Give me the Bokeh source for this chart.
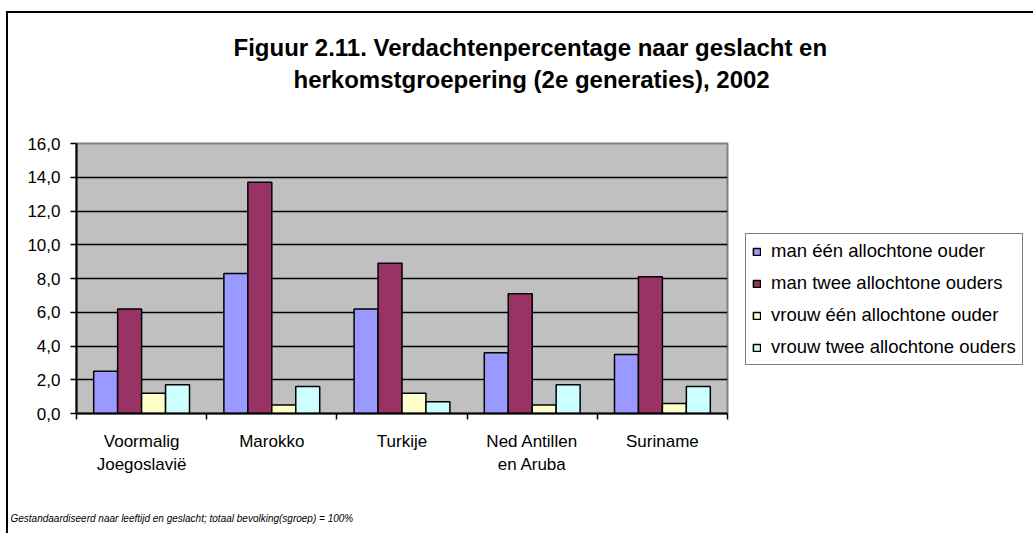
from bokeh.plotting import figure
from bokeh.models import Range1d, FixedTicker, Legend, Title
from bokeh.embed import file_html
from bokeh.resources import INLINE

# ---- data ----
categories = ["Voormalig\nJoegoslavië", "Marokko", "Turkije", "Ned Antillen\nen Aruba", "Suriname"]
series_names = ["man één allochtone ouder", "man twee allochtone ouders",
                "vrouw één allochtone ouder", "vrouw twee allochtone ouders"]
man_een = [2.5, 8.3, 6.2, 3.6, 3.5]
man_twee = [6.2, 13.7, 8.9, 7.1, 8.1]
vrouw_een = [1.2, 0.5, 1.2, 0.5, 0.6]
vrouw_twee = [1.7, 1.6, 0.7, 1.7, 1.6]
y_ticks = [0, 2, 4, 6, 8, 10, 12, 14, 16]
title_lines = ["Figuur 2.11. Verdachtenpercentage  naar geslacht en",
               "herkomstgroepering (2e generaties), 2002"]
footnote = "Gestandaardiseerd naar leeftijd en geslacht; totaal bevolking(sgroep) = 100%"

colors = ["#9999FF", "#993366", "#FFFFCC", "#CCFFFF"]
series = [man_een, man_twee, vrouw_een, vrouw_twee]

FONT = "Liberation Sans"

p = figure(frame_width=651, frame_height=270, output_backend="svg", toolbar_location=None,
           x_range=Range1d(0, len(categories)), y_range=Range1d(0, 16),
           min_border_left=68, min_border_right=305, min_border_top=130, min_border_bottom=120)
p.margin = (11, 0, 0, 6)
p.styles = {"border-top": "2px solid black", "border-left": "2px solid black"}
p.background_fill_color = "#C0C0C0"
p.border_fill_color = "white"
p.outline_line_color = "#808080"
p.outline_line_width = 2

bar_w = 0.184
offsets = [-1.5 * bar_w, -0.5 * bar_w, 0.5 * bar_w, 1.5 * bar_w]
renderers = []
for name, vals, col, off in zip(series_names, series, colors, offsets):
    xs = [i + 0.5 + off for i in range(len(categories))]
    r = p.vbar(x=xs, top=vals, width=bar_w, bottom=0, fill_color=col,
               line_color="black", line_width=1.5)
    renderers.append((name, r))

# axes
centers = [i + 0.5 for i in range(len(categories))]
p.xaxis.ticker = FixedTicker(ticks=centers, minor_ticks=list(range(len(categories) + 1)))
p.xaxis.major_label_overrides = {c: lab for c, lab in zip(centers, categories)}
p.xaxis.major_tick_line_color = None
p.xaxis.major_tick_out = 0
p.xaxis.major_tick_in = 0
p.xaxis.minor_tick_line_color = "black"
p.xaxis.minor_tick_line_width = 1.5
p.xaxis.minor_tick_out = 6
p.xaxis.minor_tick_in = 0
p.xaxis.axis_line_color = "black"
p.xaxis.axis_line_width = 2
p.xaxis.major_label_text_font = FONT
p.xaxis.major_label_text_font_size = "17px"
p.xaxis.major_label_text_color = "black"
p.xaxis.major_label_text_line_height = 1.25
p.xaxis.major_label_standoff = 12
p.xaxis.major_label_orientation = "horizontal"

p.yaxis.ticker = FixedTicker(ticks=y_ticks)
p.yaxis.major_label_overrides = {t: f"{t:.1f}".replace(".", ",") for t in y_ticks}
p.yaxis.minor_tick_line_color = None
p.yaxis.major_tick_line_color = "black"
p.yaxis.major_tick_line_width = 1.5
p.yaxis.major_tick_out = 6
p.yaxis.major_tick_in = 0
p.yaxis.axis_line_color = "black"
p.yaxis.axis_line_width = 2
p.yaxis.major_label_text_font = FONT
p.yaxis.major_label_text_font_size = "17px"
p.yaxis.major_label_text_color = "black"
p.yaxis.major_label_standoff = 10

p.xgrid.grid_line_color = None
p.ygrid.ticker = FixedTicker(ticks=y_ticks[1:-1])
p.ygrid.grid_line_color = "black"
p.ygrid.grid_line_width = 1.5

legend = Legend(items=[(n, [r]) for n, r in renderers], location=(18, 48))
legend.border_line_color = "black"
legend.border_line_width = 1.5
legend.background_fill_color = "white"
legend.background_fill_alpha = 1
legend.label_text_font = FONT
legend.label_text_font_size = "18.5px"
legend.label_text_color = "black"
legend.glyph_width = 9
legend.glyph_height = 9
legend.label_standoff = 10
legend.label_height = 20
legend.spacing = 10
legend.padding = 6
legend.margin = 0
p.add_layout(legend, "right")

# title: spacer closest to the plot, then line 2, then line 1
p.add_layout(Title(text=" ", standoff=46, text_font_size="1px"), "above")
p.add_layout(Title(text=title_lines[1], align="left", offset=217, standoff=1,
                   vertical_align="middle",
                   text_font=FONT, text_font_size="24px", text_font_style="bold",
                   text_color="black"), "above")
p.add_layout(Title(text=title_lines[0], align="left", offset=157, standoff=5,
                   vertical_align="middle",
                   text_font=FONT, text_font_size="24px", text_font_style="bold",
                   text_color="black"), "above")

# footnote below the axis
p.add_layout(Title(text=" ", standoff=31, text_font_size="1px"), "below")
p.add_layout(Title(text=footnote, align="left", offset=-66, standoff=1,
                   vertical_align="middle",
                   text_font=FONT, text_font_size="10px", text_font_style="italic",
                   text_color="black"), "below")

open("out.html", "w").write(file_html(p, INLINE))
